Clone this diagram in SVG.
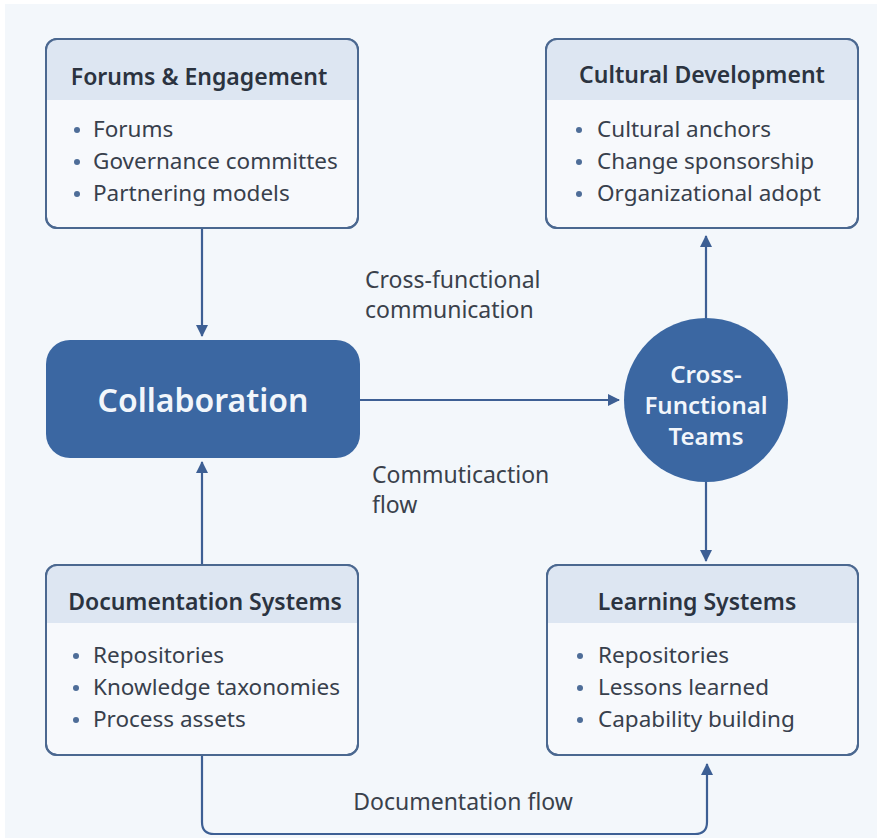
<svg xmlns="http://www.w3.org/2000/svg" width="877" height="838" viewBox="0 0 877 838">
  <style>
    .card { fill: #f7f9fc; stroke: #4b6890; stroke-width: 2; }
    .head { fill: #dde6f2; }
    .title { font-family: "Noto Sans", "Open Sans", sans-serif; font-weight: 600; font-size: 23px; fill: #2b3340; text-anchor: middle; }
    .item { font-family: "Noto Sans", "Open Sans", sans-serif; font-size: 22.5px; fill: #38404c; }
    .dot { fill: #4e6d98; }
    .label { font-family: "Noto Sans", "Open Sans", sans-serif; font-size: 23px; fill: #3a414b; }
    .hero { font-family: "Noto Sans", "Open Sans", sans-serif; font-weight: 600; fill: #f2f6fb; text-anchor: middle; }
    .link { fill: none; stroke: #3d5f94; stroke-width: 2.2; }
  </style>
  <defs>
    <marker id="arrow" viewBox="0 0 12 12" refX="11" refY="6" markerWidth="12" markerHeight="12" markerUnits="userSpaceOnUse" orient="auto">
      <path d="M0,0 L12,6 L0,12 Z" fill="#3d5f94"/>
    </marker>
    <clipPath id="clipTL"><rect x="46" y="39" width="312" height="189" rx="11"/></clipPath>
    <clipPath id="clipTR"><rect x="546" y="39" width="312" height="189" rx="11"/></clipPath>
    <clipPath id="clipBL"><rect x="46" y="565" width="312" height="190" rx="11"/></clipPath>
    <clipPath id="clipBR"><rect x="547" y="565" width="311" height="190" rx="11"/></clipPath>
  </defs>

  <rect width="877" height="838" fill="#ffffff"/>
  <rect x="5" y="4" width="872" height="834" fill="#f3f7fb"/>

  <!-- connectors -->
  <g id="connectors">
    <line class="link" x1="202" y1="228" x2="202" y2="336" marker-end="url(#arrow)"/>
    <line class="link" x1="202" y1="565" x2="202" y2="462" marker-end="url(#arrow)"/>
    <line class="link" x1="360" y1="400" x2="619" y2="400" marker-end="url(#arrow)"/>
    <line class="link" x1="706" y1="318" x2="706" y2="236" marker-end="url(#arrow)"/>
    <line class="link" x1="706" y1="482" x2="706" y2="561" marker-end="url(#arrow)"/>
    <path class="link" d="M202,755 V822 Q202,834 214,834 H695 Q707,834 707,822 V764" marker-end="url(#arrow)"/>
    <text class="label" x="365" y="288">Cross-functional</text>
    <text class="label" x="365" y="318">communication</text>
    <text class="label" x="372" y="483">Commuticaction</text>
    <text class="label" x="372" y="513">flow</text>
    <text class="label" x="463" y="810" text-anchor="middle">Documentation flow</text>
  </g>

  <!-- Forums & Engagement -->
  <g id="forums">
    <rect class="card" x="46" y="39" width="312" height="189" rx="11"/>
    <rect class="head" x="46" y="39" width="312" height="61" clip-path="url(#clipTL)"/>
    <rect x="46" y="39" width="312" height="189" rx="11" fill="none" stroke="#4b6890" stroke-width="2"/>
    <text class="title" x="199" y="85">Forums &amp; Engagement</text>
    <circle class="dot" cx="77" cy="130" r="3"/>
    <text class="item" x="93" y="137">Forums</text>
    <circle class="dot" cx="77" cy="162" r="3"/>
    <text class="item" x="93" y="169">Governance committes</text>
    <circle class="dot" cx="77" cy="194" r="3"/>
    <text class="item" x="93" y="201">Partnering models</text>
  </g>

  <!-- Cultural Development -->
  <g id="cultural">
    <rect class="card" x="546" y="39" width="312" height="189" rx="11"/>
    <rect class="head" x="546" y="39" width="312" height="61" clip-path="url(#clipTR)"/>
    <rect x="546" y="39" width="312" height="189" rx="11" fill="none" stroke="#4b6890" stroke-width="2"/>
    <text class="title" x="702" y="83">Cultural Development</text>
    <circle class="dot" cx="579" cy="130" r="3"/>
    <text class="item" x="597" y="137">Cultural anchors</text>
    <circle class="dot" cx="579" cy="162" r="3"/>
    <text class="item" x="597" y="169">Change sponsorship</text>
    <circle class="dot" cx="579" cy="194" r="3"/>
    <text class="item" x="597" y="201">Organizational adopt</text>
  </g>

  <!-- Collaboration -->
  <g id="collaboration">
    <rect x="46" y="340" width="314" height="118" rx="24" fill="#3b67a2"/>
    <text class="hero" x="203" y="412" font-size="32">Collaboration</text>
  </g>

  <!-- Cross-Functional Teams -->
  <g id="teams">
    <circle cx="706" cy="400" r="82" fill="#3b67a2"/>
    <text class="hero" x="706" y="383" font-size="24">Cross-</text>
    <text class="hero" x="706" y="414" font-size="24">Functional</text>
    <text class="hero" x="706" y="445" font-size="24">Teams</text>
  </g>

  <!-- Documentation Systems -->
  <g id="documentation">
    <rect class="card" x="46" y="565" width="312" height="190" rx="11"/>
    <rect class="head" x="46" y="565" width="312" height="58" clip-path="url(#clipBL)"/>
    <rect x="46" y="565" width="312" height="190" rx="11" fill="none" stroke="#4b6890" stroke-width="2"/>
    <text class="title" x="205" y="610">Documentation Systems</text>
    <circle class="dot" cx="76" cy="656" r="3"/>
    <text class="item" x="93" y="663">Repositories</text>
    <circle class="dot" cx="76" cy="688" r="3"/>
    <text class="item" x="93" y="695">Knowledge taxonomies</text>
    <circle class="dot" cx="76" cy="720" r="3"/>
    <text class="item" x="93" y="727">Process assets</text>
  </g>

  <!-- Learning Systems -->
  <g id="learning">
    <rect class="card" x="547" y="565" width="311" height="190" rx="11"/>
    <rect class="head" x="547" y="565" width="311" height="58" clip-path="url(#clipBR)"/>
    <rect x="547" y="565" width="311" height="190" rx="11" fill="none" stroke="#4b6890" stroke-width="2"/>
    <text class="title" x="697" y="610">Learning Systems</text>
    <circle class="dot" cx="580" cy="656" r="3"/>
    <text class="item" x="598" y="663">Repositories</text>
    <circle class="dot" cx="580" cy="688" r="3"/>
    <text class="item" x="598" y="695">Lessons learned</text>
    <circle class="dot" cx="580" cy="720" r="3"/>
    <text class="item" x="598" y="727">Capability building</text>
  </g>
</svg>
